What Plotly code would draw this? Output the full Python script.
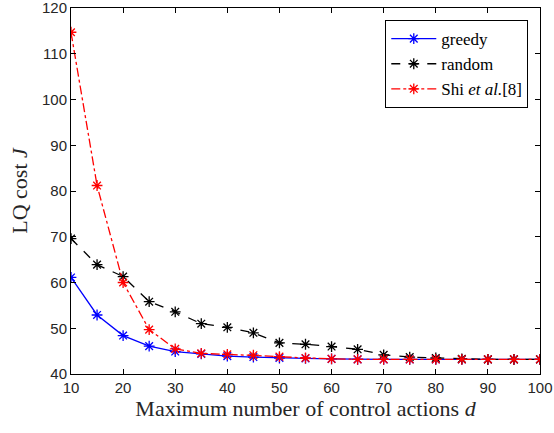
import plotly.graph_objects as go

d = [10, 15, 20, 25, 30, 35, 40, 45, 50, 55, 60, 65, 70, 75, 80, 85, 90, 95, 100]
greedy = [61.1, 52.9, 48.4, 46.1, 44.9, 44.4, 43.9, 43.7, 43.5, 43.4, 43.3, 43.2, 43.2, 43.2, 43.2, 43.2, 43.2, 43.2, 43.2]
random_ = [69.6, 63.9, 61.3, 55.8, 53.6, 51.0, 50.2, 49.0, 46.8, 46.5, 46.0, 45.4, 44.2, 43.7, 43.5, 43.3, 43.2, 43.2, 43.2]
shi = [114.7, 81.2, 60.0, 49.7, 45.5, 44.5, 44.3, 44.1, 43.8, 43.5, 43.3, 43.2, 43.2, 43.2, 43.2, 43.2, 43.2, 43.2, 43.2]
xticks = [10, 20, 30, 40, 50, 60, 70, 80, 90, 100]
yticks = [40, 50, 60, 70, 80, 90, 100, 110, 120]

fig = go.Figure()
mk = dict(symbol="asterisk-open", size=9, line=dict(width=1.3))
fig.add_trace(go.Scatter(x=d, y=greedy, name="greedy", mode="lines+markers",
                         line=dict(color="#0000ff", width=1.3),
                         marker=dict(color="#0000ff", **mk)))
fig.add_trace(go.Scatter(x=d, y=random_, name="random", mode="lines+markers",
                         line=dict(color="#000000", width=1.3, dash="dash"),
                         marker=dict(color="#000000", **mk)))
fig.add_trace(go.Scatter(x=d, y=shi, name="Shi <i>et al.</i>[8]", mode="lines+markers",
                         line=dict(color="#ff0000", width=1.3, dash="dashdot"),
                         marker=dict(color="#ff0000", **mk)))

axis_common = dict(showline=True, linecolor="black", linewidth=1, mirror="ticks",
                   ticks="inside", ticklen=5, tickcolor="black", showgrid=False,
                   zeroline=False, automargin=False, ticklabeloverflow="allow",
                   tickfont=dict(family="Liberation Sans, Arial", size=15, color="#262626"))
fig.update_xaxes(range=[10, 100], tickvals=xticks,
                 title=dict(text="Maximum number of control actions <i>d</i>",
                            font=dict(family="Liberation Serif", size=22, color="#262626"), standoff=4),
                 **axis_common)
fig.update_yaxes(range=[40, 120], tickvals=yticks,
                 title=dict(text="LQ cost <i>J</i>",
                            font=dict(family="Liberation Serif", size=22, color="#262626"), standoff=8),
                 **axis_common)

fig.update_layout(
    width=554, height=433,
    margin=dict(l=71, r=14, t=8, b=59),
    plot_bgcolor="white", paper_bgcolor="white",
    font=dict(family="Liberation Serif", color="black"),
    legend=dict(x=0.975, y=0.967, xanchor="right", yanchor="top",
                bgcolor="white", bordercolor="black", borderwidth=1,
                font=dict(family="Liberation Serif", size=17, color="black"),
                tracegroupgap=0, itemwidth=45),
)
fig.write_html("out.html")
